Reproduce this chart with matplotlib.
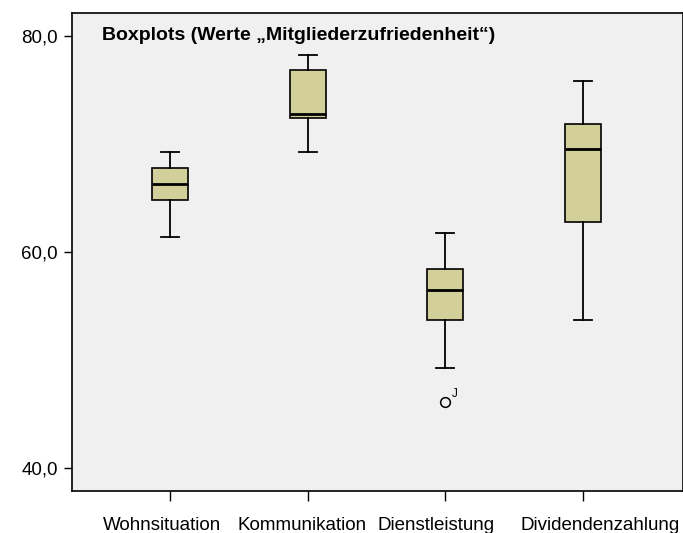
import matplotlib
matplotlib.use('Agg')
import matplotlib.pyplot as plt
import matplotlib.transforms as mtransforms

categories = ['Wohnsituation', 'Kommunikation', 'Dienstleistung', 'Dividendenzahlung']
whisker_low = [61.4, 69.3, 49.3, 53.7]
q1 = [64.8, 72.4, 53.7, 62.8]
median = [66.3, 72.8, 56.5, 69.5]
q3 = [67.8, 76.85, 58.4, 71.85]
whisker_high = [69.3, 78.2, 61.75, 75.8]
outliers = [[], [], [46.1], []]
outlier_labels = [[], [], ['J'], []]

stats = []
for i in range(len(categories)):
    stats.append({'whislo': whisker_low[i], 'q1': q1[i], 'med': median[i],
                  'q3': q3[i], 'whishi': whisker_high[i], 'fliers': outliers[i]})

fig = plt.figure(figsize=(6.83, 5.33), dpi=100)
ax = fig.add_axes([72 / 683, 42 / 533, 611 / 683, 478 / 533])
ax.set_facecolor('#f0f0f0')

pos = list(range(1, len(categories) + 1))
ax.bxp(stats, positions=pos, widths=0.26, patch_artist=True,
       boxprops=dict(facecolor='#d3cf9a', edgecolor='black', linewidth=1.2),
       medianprops=dict(color='black', linewidth=2),
       whiskerprops=dict(color='black', linewidth=1.3),
       capprops=dict(color='black', linewidth=1.3),
       capwidths=0.13,
       flierprops=dict(marker='o', markerfacecolor='none', markeredgecolor='black',
                       markersize=7, markeredgewidth=1.1))

for i in range(len(categories)):
    for v, lab in zip(outliers[i], outlier_labels[i]):
        ax.annotate(lab, (pos[i], v), xytext=(5, 4), textcoords='offset points',
                    fontsize=8.5, family='Liberation Sans')

ax.set_xlim(0.288, 4.726)
ax.set_ylim(37.87, 82.13)
ax.set_yticks([40, 60, 80])
ax.set_yticklabels(['40,0', '60,0', '80,0'], fontsize=13.5, family='Liberation Sans')
ax.set_xticks(pos)
ax.set_xticklabels(categories, fontsize=13.5, family='Liberation Sans')
ax.tick_params(axis='y', length=6, width=1, pad=4)
ax.tick_params(axis='x', length=7.5, width=1, pad=11, direction='out')
for s in ax.spines.values():
    s.set_linewidth(1.2)

# labels sit slightly off-centre in the original
shifts = [-8, -6, -9, 17]
for lab, dx in zip(ax.get_xticklabels(), shifts):
    lab.set_transform(lab.get_transform() + mtransforms.ScaledTranslation(dx / 100, 0, fig.dpi_scale_trans))

ax.text(0.049, 0.952, 'Boxplots (Werte \u201eMitgliederzufriedenheit\u201c)', transform=ax.transAxes,
        fontsize=14, fontweight='bold', family='Liberation Sans', va='center')

fig.savefig('out.png', dpi=100)
